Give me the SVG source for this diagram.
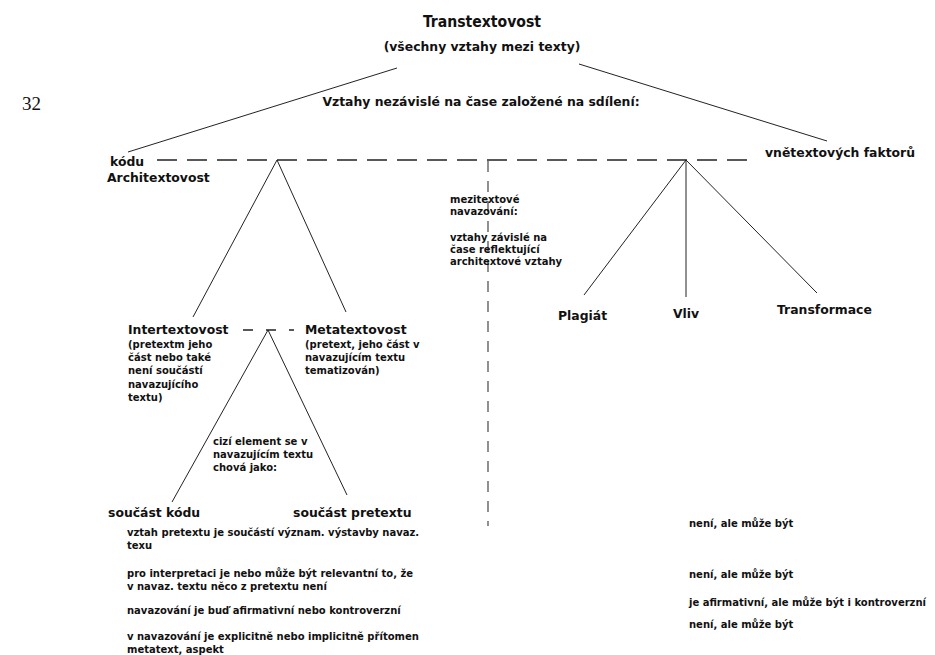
<svg xmlns="http://www.w3.org/2000/svg" width="935" height="655" viewBox="0 0 935 655">
<style>
text{font-family:"DejaVu Sans",sans-serif;font-weight:bold;fill:#111}
.t{font-family:"DejaVu Sans Condensed","DejaVu Sans",sans-serif;font-size:15.6px}
.m{font-size:12.4px}
.s{font-size:10px}
.pg{font-family:"Liberation Serif",serif;font-weight:normal;font-size:19px}
.ln{stroke:#222;stroke-width:1;fill:none}
.dh{stroke:#222;stroke-width:1.3;fill:none;stroke-dasharray:20 10}
.dv{stroke:#555;stroke-width:1.3;fill:none;stroke-dasharray:11 9}
</style>
<rect width="935" height="655" fill="#fff"/>
<g id="connectors">
<line class="ln" x1="397" y1="68" x2="128" y2="152"/>
<line class="ln" x1="579" y1="64" x2="827" y2="141"/>
<line class="dh" x1="157" y1="160" x2="753" y2="160"/>
<line class="dv" x1="488" y1="161" x2="488" y2="526"/>
<polyline class="ln" points="193,317 277,160 346,312"/>
<polyline class="ln" points="584,295 686,160 817,293"/>
<line class="ln" x1="686" y1="160" x2="686" y2="297"/>
<line class="dh" x1="243" y1="330" x2="294" y2="330" style="stroke-dasharray:10 13"/>
<polyline class="ln" points="172,502 268,330 347,495"/>
</g>
<text class="pg" x="22" y="110">32</text>
<g id="n-transtextovost">
<text class="t" x="482" y="27" text-anchor="middle">Transtextovost</text>
<text class="m" x="482" y="51" text-anchor="middle">(všechny vztahy mezi texty)</text>
</g>
<g id="n-nezavisle">
<text class="m" x="481" y="106" text-anchor="middle">Vztahy nezávislé na čase založené na sdílení:</text>
</g>
<g id="n-architextovost">
<text class="m" x="110" y="166">kódu</text>
<text class="m" x="107" y="182">Architextovost</text>
</g>
<g id="n-vnetextovych">
<text class="m" x="765" y="157">vnětextových faktorů</text>
</g>
<g id="n-mezitextove">
<text class="s" x="450" y="203">mezitextové</text>
<text class="s" x="450" y="215">navazování:</text>
<text class="s" x="450" y="241">vztahy závislé na</text>
<text class="s" x="450" y="253">čase reflektující</text>
<text class="s" x="450" y="265">architextové vztahy</text>
</g>
<g id="n-plagiat"><text class="m" x="558" y="320">Plagiát</text></g>
<g id="n-vliv"><text class="m" x="673" y="318">Vliv</text></g>
<g id="n-transformace"><text class="m" x="777" y="314">Transformace</text></g>
<g id="n-intertextovost">
<text class="m" x="128" y="334">Intertextovost</text>
<text class="s" x="128" y="348">(pretextm jeho</text>
<text class="s" x="128" y="361">část nebo také</text>
<text class="s" x="128" y="374">není součástí</text>
<text class="s" x="128" y="388">navazujícího</text>
<text class="s" x="128" y="401">textu)</text>
</g>
<g id="n-metatextovost">
<text class="m" x="305" y="334">Metatextovost</text>
<text class="s" x="305" y="348">(pretext, jeho část v</text>
<text class="s" x="305" y="361">navazujícím textu</text>
<text class="s" x="305" y="374">tematizován)</text>
</g>
<g id="n-cizi">
<text class="s" x="213" y="445">cizí element se v</text>
<text class="s" x="213" y="458">navazujícím textu</text>
<text class="s" x="213" y="471">chová jako:</text>
</g>
<g id="n-soucast-kodu"><text class="m" x="108" y="517">součást kódu</text></g>
<g id="n-soucast-pretextu"><text class="m" x="293" y="517">součást pretextu</text></g>
<g id="n-left-notes">
<text class="s" x="127" y="536">vztah pretextu je součástí význam. výstavby navaz.</text>
<text class="s" x="127" y="549">texu</text>
<text class="s" x="127" y="577">pro interpretaci je nebo může být relevantní to, že</text>
<text class="s" x="127" y="590">v navaz. textu něco z pretextu není</text>
<text class="s" x="127" y="614">navazování je buď afirmativní nebo kontroverzní</text>
<text class="s" x="127" y="640">v navazování je explicitně nebo implicitně přítomen</text>
<text class="s" x="127" y="653">metatext, aspekt</text>
</g>
<g id="n-right-notes">
<text class="s" x="689" y="527">není, ale může být</text>
<text class="s" x="689" y="578">není, ale může být</text>
<text class="s" x="689" y="606">je afirmativní, ale může být i kontroverzní</text>
<text class="s" x="689" y="628">není, ale může být</text>
</g>
</svg>
